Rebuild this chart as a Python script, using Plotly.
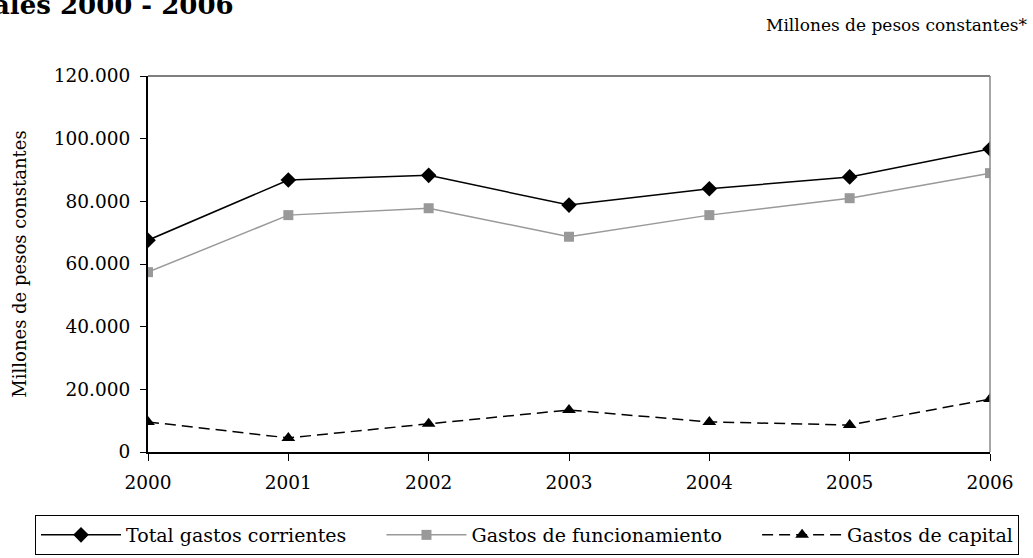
import plotly.graph_objects as go

years = [2000, 2001, 2002, 2003, 2004, 2005, 2006]
total_corrientes = [67600, 86800, 88300, 78800, 84000, 87800, 96700]
funcionamiento = [57400, 75600, 77800, 68700, 75600, 81000, 89000]
capital = [9600, 4500, 9000, 13400, 9600, 8600, 16900]

y_ticks = [0, 20000, 40000, 60000, 80000, 100000, 120000]
y_tick_labels = ["0", "20.000", "40.000", "60.000", "80.000", "100.000", "120.000"]

FONT = "DejaVu Serif"
PAD = "\u00a0" * 5  # invisible trailing padding to spread legend entries

fig = go.Figure()
fig.add_trace(go.Scatter(
    x=years, y=total_corrientes, name="Total gastos corrientes" + PAD,
    mode="lines+markers",
    line=dict(color="black", width=1.5),
    marker=dict(symbol="diamond", size=12, color="black"),
))
fig.add_trace(go.Scatter(
    x=years, y=funcionamiento, name="Gastos de funcionamiento" + PAD,
    mode="lines+markers",
    line=dict(color="#999999", width=1.5),
    marker=dict(symbol="square", size=10, color="#999999"),
))
fig.add_trace(go.Scatter(
    x=years, y=capital, name="Gastos de capital",
    mode="lines+markers",
    line=dict(color="black", width=1.5, dash="11px,6px"),
    marker=dict(symbol="triangle-up", size=12, color="black"),
))

fig.update_layout(
    width=1033, height=558,
    margin=dict(l=148, r=43, t=76, b=106, autoexpand=False),
    paper_bgcolor="white", plot_bgcolor="white",
    font=dict(family=FONT, color="black", size=15),
    showlegend=True,
    legend=dict(
        orientation="h",
        x=-0.1342, y=-0.1676, xanchor="left", yanchor="top",
        bordercolor="black", borderwidth=1,
        font=dict(family=FONT, size=19),
        itemwidth=80,
    ),
    xaxis=dict(
        range=[2000, 2006], tickvals=years, ticktext=[str(y) for y in years],
        showgrid=False, zeroline=False,
        showline=True, linecolor="black", linewidth=2,
        ticks="outside", ticklen=7, tickcolor="black", tickwidth=1,
        tickfont=dict(family=FONT, size=18.5),
        ticklabelstandoff=6,
    ),
    yaxis=dict(
        range=[0, 120000], tickvals=y_ticks, ticktext=y_tick_labels,
        showgrid=False, zeroline=False,
        showline=True, linecolor="black", linewidth=2,
        ticks="outside", ticklen=6, tickcolor="black", tickwidth=1,
        tickfont=dict(family=FONT, size=18.5),
        ticklabelstandoff=6,
        title=dict(text="Millones de pesos constantes", font=dict(family=FONT, size=18), standoff=22),
    ),
    shapes=[
        dict(type="line", xref="paper", yref="paper", x0=0, x1=1, y0=1, y1=1,
             line=dict(color="#555555", width=1.5)),
        dict(type="line", xref="paper", yref="paper", x0=1, x1=1, y0=0, y1=1,
             line=dict(color="#888888", width=1.5)),
    ],
    annotations=[
        dict(text="<b>ales 2000 - 2006</b>", xref="paper", yref="paper",
             x=-0.187, y=(452 - 22) / 376, xanchor="left", yanchor="bottom", showarrow=False,
             font=dict(family=FONT, size=26, color="black")),
        dict(text="Millones de pesos constantes*", xref="paper", yref="paper",
             x=(1029 - 148) / 842, y=(452 - 25) / 376, xanchor="right", yanchor="middle", showarrow=False,
             font=dict(family=FONT, size=17, color="black")),
    ],
)

fig.write_html("out.html", post_script="document.body.style.margin='0px';",
               config={"displayModeBar": False})
